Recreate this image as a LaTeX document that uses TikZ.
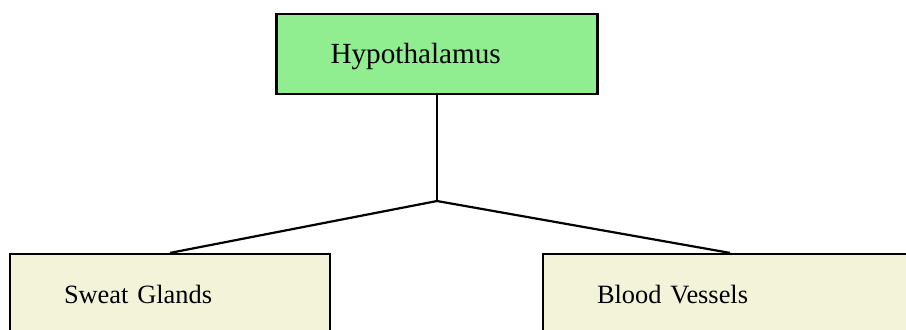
\documentclass[tikz,border=0pt]{standalone}
\usepackage{fontspec}
\setmainfont{Liberation Serif}
\usetikzlibrary{positioning}
\definecolor{hubgreen}{HTML}{90EE90}
\definecolor{effbeige}{HTML}{F3F3DA}
\tikzset{control/.style={
        draw,
        rectangle,
        line width=1.1pt,
        fill=hubgreen,
        minimum width=160.5pt,
        minimum height=40pt,
        inner xsep=27pt,
        text width=106.5pt,
        text height=10.5pt,
        text depth=1pt,
        align=left,
        font=\fontsize{14.6}{16}\selectfont
}}
\tikzset{effector/.style={
        draw,
        rectangle,
        line width=1.1pt,
        fill=effbeige,
        minimum height=40pt,
        inner xsep=27pt,
        text height=10.5pt,
        text depth=1pt,
        align=left,
        font=\fontsize{13.2}{15}\selectfont
}}
\tikzset{branch/.style={draw,line width=1.1pt}}

\begin{document}
\begin{tikzpicture}[x=0.5pt,y=-0.5pt]
\clip (0,0) rectangle (906,329);
\node[control] (hypo) at (437,54) {Hypothalamus};
\node[effector, text width=106pt, minimum width=160pt] (sweat) at (170,294) {Sweat Glands};
\node[effector, text width=133pt, minimum width=187pt] (vessels) at (730,294) {Blood Vessels};
\coordinate (split) at (437,201);

\draw[branch] (hypo.south) -- (split);
\draw[branch] (split) -- (sweat.north);
\draw[branch] (split) -- (vessels.north);
\end{tikzpicture}
\end{document}
